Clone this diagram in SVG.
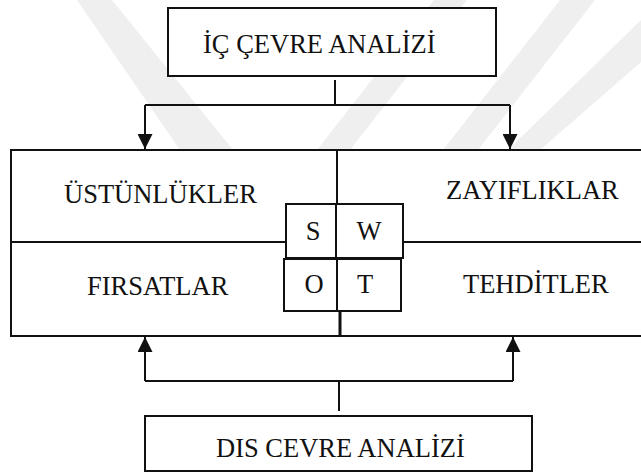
<svg xmlns="http://www.w3.org/2000/svg" width="641" height="472" viewBox="0 0 641 472">
  <defs>
    <style>
      .box { fill: #ffffff; stroke: #111111; stroke-width: 2; }
      .ln { fill: none; stroke: #111111; stroke-width: 2; }
      .lbl { font-family: "Liberation Serif", "Times New Roman", serif; font-size: 26.5px; fill: #111111; }
      .mid { text-anchor: middle; }
      .wm { fill: #efefef; }
    </style>
    <marker id="head" viewBox="0 0 15 15" refX="15" refY="7.5" markerWidth="15" markerHeight="15" markerUnits="userSpaceOnUse" orient="auto">
      <path d="M0,0 L15,7.5 L0,15 Z" fill="#111111"/>
    </marker>
  </defs>

  <rect width="641" height="472" fill="#ffffff"/>

  <!-- faint background watermark bands -->
  <g id="watermark">
    <polygon class="wm" points="77,0 112,0 233,150 180,150"/>
    <polygon class="wm" points="560,0 595,0 478,150 443,150"/>
    <polygon class="wm" points="641,20 641,62 540,150 508,150"/>
    <polygon class="wm" points="434,0 467,0 350,150 317,150"/>
  </g>

  <!-- connectors -->
  <g id="connectors">
    <path class="ln" d="M335,80 V105"/>
    <path class="ln" d="M145,105 H510"/>
    <path class="ln" d="M145,105 V149" marker-end="url(#head)"/>
    <path class="ln" d="M510,105 V149" marker-end="url(#head)"/>
    <path class="ln" d="M339,411 V381"/>
    <path class="ln" d="M145,381 H513"/>
    <path class="ln" d="M145,381 V337" marker-end="url(#head)"/>
    <path class="ln" d="M513,381 V337" marker-end="url(#head)"/>
  </g>

  <g id="ic-cevre">
    <rect class="box" x="168" y="8" width="328" height="68"/>
    <text class="lbl" x="203" y="53">İÇ ÇEVRE ANALİZİ</text>
  </g>

  <!-- SWOT matrix: outer frame runs off the right edge -->
  <g id="matrix">
    <path class="box" d="M642,150 H11 V336 H642"/>
    <path class="ln" d="M11,242 H286 M403,242 H641"/>
    <path class="ln" d="M337,150 V204"/>
    <path d="M340,311 V336" fill="none" stroke="#111111" stroke-width="3"/>
  </g>

  <g id="ustunlukler">
    <text class="lbl" x="64" y="203">ÜSTÜNLÜKLER</text>
  </g>
  <g id="zayifliklar">
    <text class="lbl" x="446" y="199">ZAYIFLIKLAR</text>
  </g>
  <g id="firsatlar">
    <text class="lbl" x="87" y="295">FIRSATLAR</text>
  </g>
  <g id="tehditler">
    <text class="lbl" x="463" y="293">TEHDİTLER</text>
  </g>

  <g id="swot-sw">
    <rect class="box" x="286" y="204" width="117" height="54"/>
    <path class="ln" d="M336,204 V258"/>
    <text class="lbl mid" x="313" y="240">S</text>
    <text class="lbl mid" x="369" y="240">W</text>
  </g>
  <g id="swot-ot">
    <rect class="box" x="284" y="259" width="117" height="52"/>
    <path class="ln" d="M337,259 V311"/>
    <text class="lbl mid" x="314" y="293">O</text>
    <text class="lbl mid" x="365" y="293">T</text>
  </g>

  <g id="dis-cevre">
    <rect class="box" x="145" y="416" width="387" height="55"/>
    <text class="lbl" x="216" y="457">DIS CEVRE ANALİZİ</text>
  </g>
</svg>
